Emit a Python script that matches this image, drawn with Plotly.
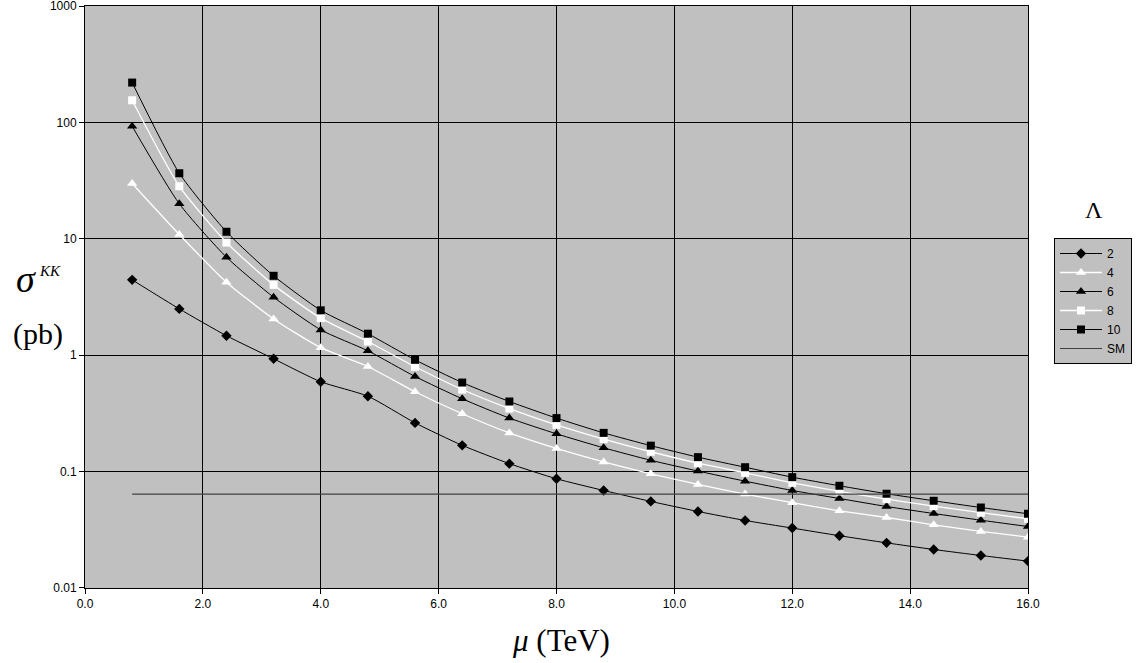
import plotly.graph_objects as go

mu = [0.8, 1.6, 2.4, 3.2, 4.0, 4.8, 5.6, 6.4, 7.2, 8.0, 8.8, 9.6, 10.4, 11.2, 12.0, 12.8, 13.6, 14.4, 15.2, 16.0]

s2 = [4.44, 2.50, 1.47, 0.931, 0.591, 0.444, 0.262, 0.168, 0.117, 0.0867, 0.0688, 0.0554, 0.0454, 0.038, 0.0327, 0.0281, 0.0244, 0.0214, 0.0190, 0.0170]
s4 = [29.9, 10.9, 4.24, 2.05, 1.16, 0.80, 0.485, 0.314, 0.215, 0.158, 0.121, 0.0957, 0.0775, 0.064, 0.054, 0.046, 0.0403, 0.0349, 0.0306, 0.0273]
s6 = [92.8, 20.0, 6.95, 3.15, 1.65, 1.09, 0.656, 0.422, 0.288, 0.211, 0.160, 0.125, 0.101, 0.0827, 0.0688, 0.0587, 0.0501, 0.0436, 0.0382, 0.0337]
s8 = [155, 28.3, 9.29, 4.02, 2.08, 1.31, 0.795, 0.507, 0.348, 0.252, 0.190, 0.148, 0.118, 0.0976, 0.080, 0.0675, 0.058, 0.0505, 0.0443, 0.0393]
s10 = [220, 36.6, 11.5, 4.81, 2.43, 1.53, 0.912, 0.582, 0.40, 0.288, 0.215, 0.167, 0.133, 0.109, 0.0895, 0.0755, 0.0645, 0.0561, 0.0491, 0.0434]
sm = [0.064] * len(mu)

series = [
    ("2", s2, "black", "diamond", 8, 1.0),
    ("4", s4, "white", "triangle-up", 9, 1.3),
    ("6", s6, "black", "triangle-up", 9, 1.0),
    ("8", s8, "white", "square", 8, 1.3),
    ("10", s10, "black", "square", 8, 1.0),
]

x_ticks = [0, 2, 4, 6, 8, 10, 12, 14, 16]
y_ticks = [0.01, 0.1, 1, 10, 100, 1000]
y_ticklabels = ["0.01", "0.1", "1", "10", "100", "1000"]

# plot area geometry (pixels) used to place annotations
L, T, PW, PH = 85, 6, 943, 582


def px(x):
    return (x - L) / PW


def py(y):
    return (T + PH - y) / PH


fig = go.Figure()
for name, vals, col, sym, sz, lw in series:
    fig.add_trace(go.Scatter(
        x=mu, y=vals, name=name, mode="lines+markers",
        line=dict(color=col, width=lw, shape="spline", smoothing=0.6),
        marker=dict(color=col, symbol=sym, size=sz, line=dict(width=0)),
    ))
fig.add_trace(go.Scatter(
    x=mu, y=sm, name="SM", mode="lines",
    line=dict(color="#404040", width=1.1),
))

serif = "Liberation Serif, Times New Roman, serif"


def ann(text, x, y, size):
    return dict(text=text, x=px(x), y=py(y), xref="paper", yref="paper", showarrow=False,
                xanchor="center", yanchor="middle",
                font=dict(family=serif, size=size, color="black"))


fig.update_layout(
    width=1138, height=663,
    margin=dict(l=L, r=1138 - L - PW, t=T, b=663 - T - PH, autoexpand=False),
    paper_bgcolor="white",
    plot_bgcolor="#c0c0c0",
    font=dict(family="Arial, Liberation Sans", size=12, color="black"),
    showlegend=True,
    legend=dict(
        x=px(1054), y=py(238), xanchor="left", yanchor="top",
        bgcolor="#c0c0c0", bordercolor="black", borderwidth=1,
        font=dict(family="Arial, Liberation Sans", size=12, color="black"),
        tracegroupgap=0, itemwidth=42,
    ),
    xaxis=dict(
        range=[0, 16], tickvals=x_ticks, ticktext=[f"{v:.1f}" for v in x_ticks],
        showgrid=True, gridcolor="black", gridwidth=1,
        showline=True, linecolor="black", linewidth=1, mirror=True,
        ticks="outside", ticklen=5, tickcolor="black", zeroline=False,
        ticklabeloverflow="allow", automargin=False,
    ),
    yaxis=dict(
        type="log", range=[-2.0005, 3.0005], tickvals=y_ticks, ticktext=y_ticklabels,
        showgrid=True, gridcolor="black", gridwidth=1,
        showline=True, linecolor="black", linewidth=1, mirror=True,
        ticks="outside", ticklen=5, tickcolor="black", zeroline=False,
        ticklabeloverflow="allow", automargin=False,
    ),
    annotations=[
        ann("Λ", 1094, 210, 24),
        ann("<i>σ</i>", 26, 279, 38),
        ann("<i>KK</i>", 50, 271, 15),
        ann("(pb)", 38, 334, 30),
        ann("<i>μ</i> (TeV)", 561, 640, 31),
    ],
)

fig.write_html("out.html", config={"displayModeBar": False},
               post_script="document.body.style.margin='0px';")
